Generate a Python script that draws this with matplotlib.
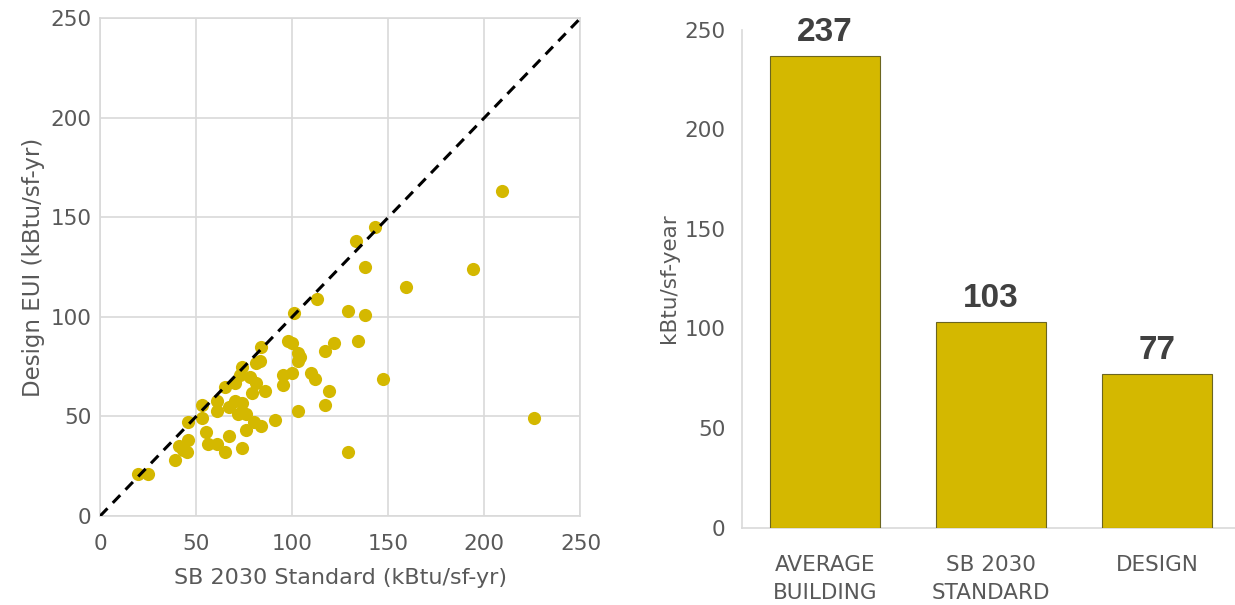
import matplotlib
matplotlib.use("Agg")
import matplotlib.pyplot as plt

# scatter: SB 2030 standard vs design EUI (kBtu/sf-yr)
sb2030 = [209, 143, 133, 138, 194, 159, 113, 129, 138, 101, 134, 122, 117,
          98, 100, 103, 104, 103, 110, 112, 95, 100, 95, 147, 84, 83, 81,
          74, 73, 70, 65, 78, 81, 79, 86, 119, 117, 103, 53, 61, 61, 53,
          67, 70, 74, 72, 76, 80, 84, 91, 76, 46, 55, 56, 61, 67, 65, 74,
          129, 226, 41, 43, 46, 45, 39, 20, 25]
design = [163, 145, 138, 125, 124, 115, 109, 103, 101, 102, 88, 87, 83,
          88, 87, 82, 80, 78, 72, 69, 71, 72, 66, 69, 85, 78, 77,
          75, 71, 67, 65, 70, 67, 62, 63, 63, 56, 53, 56, 58, 53, 49,
          55, 58, 57, 51, 51, 47, 45, 48, 43, 47, 42, 36, 36, 40, 32, 34,
          32, 49, 35, 33, 38, 32, 28, 21, 21]

# bar chart
categories = ["AVERAGE\nBUILDING", "SB 2030\nSTANDARD", "DESIGN"]
eui = [237, 103, 77]

gold = "#D4B800"
grid = "#D9D9D9"
txt = "#595959"

fig = plt.figure(figsize=(12.35, 6.05), dpi=100)

ax1 = fig.add_axes([0.081, 0.147, 0.389, 0.823])
ax1.scatter(sb2030, design, s=90, color=gold, zorder=3, linewidths=0)
ax1.plot([0, 250], [0, 250], color="black", linestyle=(0, (3.5, 2.5)), linewidth=2.2, zorder=4)
ax1.set_xlim(0, 250)
ax1.set_ylim(0, 250)
ax1.set_xticks(range(0, 251, 50))
ax1.set_yticks(range(0, 251, 50))
ax1.grid(True, color=grid, linewidth=1.2, zorder=0)
for s in ax1.spines.values():
    s.set_color(grid)
    s.set_linewidth(1.2)
ax1.tick_params(length=0, labelsize=15.5, labelcolor=txt)
ax1.tick_params(axis="x", pad=13)
ax1.tick_params(axis="y", pad=6)
ax1.set_xlabel("SB 2030 Standard (kBtu/sf-yr)", fontsize=16, color=txt, labelpad=10)
ax1.set_ylabel("Design EUI (kBtu/sf-yr)", fontsize=16.5, color=txt, labelpad=4)

ax2 = fig.add_axes([0.601, 0.128, 0.399, 0.823])
x = range(len(categories))
bars = ax2.bar(x, eui, width=0.66, color=gold, edgecolor="#6b6520", linewidth=0.8, zorder=3)
for b, v in zip(bars, eui):
    ax2.text(b.get_x() + b.get_width() / 2, v + 4, str(v), ha="center", va="bottom",
             fontsize=24, fontweight="bold", color="#404040", family="Liberation Sans")
ax2.set_xlim(-0.5, 2.47)
ax2.set_ylim(0, 250)
ax2.set_yticks(range(0, 251, 50))
ax2.set_xticks(list(x))
ax2.set_xticklabels(categories, linespacing=1.45)
for side in ["top", "right"]:
    ax2.spines[side].set_visible(False)
ax2.spines["left"].set_color(grid)
ax2.spines["bottom"].set_color(grid)
ax2.spines["left"].set_linewidth(1.2)
ax2.spines["bottom"].set_linewidth(1.2)
ax2.tick_params(axis="y", length=0, labelsize=15.5, labelcolor=txt, pad=12)
ax2.tick_params(axis="x", length=0, labelsize=15.5, labelcolor=txt, pad=20)
ax2.set_ylabel("kBtu/sf-year", fontsize=15.5, color=txt, labelpad=4)

fig.savefig("out.png", dpi=100)
